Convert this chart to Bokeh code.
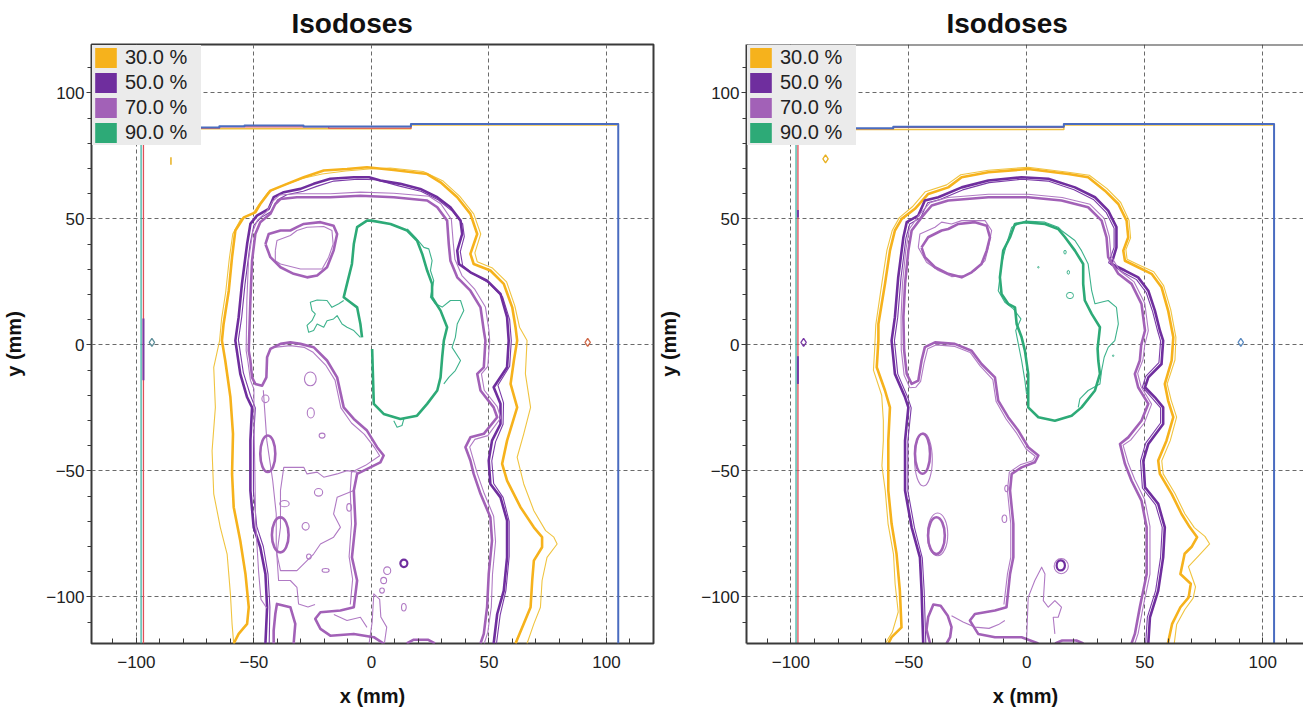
from bokeh.plotting import figure
from bokeh.models import Range1d, Legend, LegendItem, SingleIntervalTicker, Span
from bokeh.layouts import row
from bokeh.embed import file_html
from bokeh.resources import INLINE

TITLE = "Isodoses"
X_LABEL = "x (mm)"
Y_LABEL = "y (mm)"
LEVELS = ["30.0 %", "50.0 %", "70.0 %", "90.0 %"]
LEVEL_COLORS = ["#F6B21C", "#6F2E9E", "#A261B7", "#2DAA77"]
THIN_COLORS = ["#F0C440", "#7B3BA8", "#B07AC4", "#3DB28C"]
Y_START, Y_END = -118.5, 119.2

# ------------------------------------------------------------------ LEFT PANEL (mm)
L30_THICK = [(-58.6,-118.5),(-56.5,-114.7),(-52.9,-110.7),(-52.2,-104.1),(-53.6,-90.9),(-55.8,-77.7),(-58.6,-64.4),(-59.3,-51.2),(-58.9,-35.3),(-60.0,-20.8),(-62.2,-6.2),(-63.6,1.7),(-62.9,8.3),(-60.7,21.5),(-59.3,34.8),(-57.9,45.4),(-54.3,50.6),(-49.4,52.6),(-47.3,55.9),(-43.0,61.2),(-35.9,63.9),(-28.8,66.5),(-20.3,69.2),(-10.4,69.8),(-1.9,70.5),(9.5,69.4),(23.7,67.8),(29.4,64.5),(36.5,58.6),(42.1,52.0),(45.0,44.0),(42.1,36.1),(43.5,32.1),(50.6,29.5),(56.3,24.2),(59.9,14.9),(61.3,7.0),(62.0,1.7),(60.6,-6.2),(59.2,-15.5),(62.0,-24.8),(57.7,-38.0),(55.6,-47.2),(57.7,-53.9),(63.4,-64.4),(69.1,-72.4),(72.6,-76.3),(72.6,-80.3),(69.1,-85.6),(68.4,-93.5),(67.7,-104.1),(64.8,-110.7),(61.3,-118.5)]
L30_THIN = [(-58.6,-118.5),(-59.3,-110.7),(-60.0,-98.8),(-61.4,-83.0),(-64.3,-72.4),(-67.1,-59.1),(-67.8,-42.0),(-66.4,-24.8),(-67.1,-8.9),(-64.6,1.7),(-63.8,10.0),(-62.0,21.0),(-60.5,34.0),(-59.0,44.0),(-55.5,50.0),(-50.5,52.0),(-48.0,55.5),(-44.0,60.5),(-37.0,63.5),(-29.5,66.0),(-21.0,67.8),(-11.0,69.0),(-1.0,69.8),(8.0,70.2),(22.0,68.8),(30.5,65.0),(37.5,59.0),(43.5,52.0),(46.5,44.0),(44.0,36.5),(45.0,33.0),(51.5,30.5),(57.5,25.0),(61.0,15.5),(63.0,7.0),(66.2,1.7),(65.5,-11.5),(67.7,-24.8),(64.8,-35.3),(62.0,-44.6),(64.8,-55.2),(69.1,-65.8),(74.1,-73.7),(77.6,-76.3),(79.0,-79.0),(74.7,-84.3),(72.6,-93.5),(71.9,-104.1),(69.1,-110.7),(66.2,-118.5)]
L50_THICK = [(-45.1,-118.5),(-44.4,-104.1),(-45.1,-90.9),(-47.3,-80.3),(-50.1,-72.4),(-51.5,-57.8),(-51.5,-38.0),(-50.8,-24.8),(-52.9,-20.8),(-55.8,-11.5),(-57.9,1.7),(-56.5,11.0),(-55.1,24.2),(-52.9,40.0),(-51.5,48.0),(-48.7,51.3),(-43.7,54.0),(-41.6,58.6),(-37.3,60.6),(-30.2,61.9),(-24.6,63.9),(-17.5,65.9),(-7.5,66.5),(-1.0,66.5),(3.8,65.2),(12.3,63.9),(20.8,61.9),(28.0,58.6),(33.6,54.6),(37.9,49.3),(38.6,44.0),(36.5,37.4),(37.2,32.1),(42.1,28.8),(49.2,25.5),(54.9,20.2),(57.7,11.0),(58.4,1.7),(57.7,-8.9),(52.0,-16.8),(54.9,-23.4),(54.9,-31.4),(51.3,-38.0),(49.9,-45.9),(50.6,-55.2),(54.9,-60.5),(57.7,-69.7),(57.7,-84.3),(56.3,-97.5),(53.5,-106.8),(52.0,-118.5)]
L50_THIN = [(-43.5,-118.5),(-43.2,-104.0),(-44.0,-91.0),(-46.0,-80.0),(-48.8,-72.0),(-50.2,-58.0),(-50.2,-38.0),(-49.4,-25.0),(-51.5,-20.0),(-54.5,-11.0),(-56.6,2.0),(-55.2,11.0),(-53.8,24.0),(-51.6,40.0),(-50.0,47.5),(-47.0,50.5),(-42.5,53.0),(-40.0,57.5),(-36.0,59.6),(-29.0,61.0),(-23.0,63.0),(-16.0,65.0),(-6.0,65.7),(2.0,65.5),(12.0,63.0),(21.0,61.0),(28.5,57.5),(34.5,53.0),(38.8,48.0),(39.5,43.0),(37.8,37.0),(38.8,31.5),(43.5,28.0),(50.0,24.5),(55.8,19.0),(58.8,10.0),(59.5,1.7),(58.8,-8.5),(53.8,-16.0),(56.2,-23.0),(56.0,-31.5),(52.8,-38.5),(51.2,-46.0),(52.0,-55.0),(56.0,-60.5),(58.6,-70.0),(58.6,-84.0),(57.2,-97.5),(54.8,-107.0),(53.2,-118.5)]
L70_MAIN = [(46.4,-118.5),(47.8,-114.7),(49.2,-104.1),(49.9,-90.9),(51.3,-77.7),(50.6,-68.4),(46.4,-59.1),(43.5,-51.2),(42.1,-45.9),(40.0,-40.6),(42.1,-36.7),(47.8,-35.3),(53.5,-28.7),(52.0,-24.8),(46.4,-18.1),(45.0,-11.5),(47.8,-8.9),(48.5,1.7),(47.8,5.7),(46.4,14.9),(42.1,21.5),(36.5,26.8),(33.6,33.4),(32.9,40.0),(32.2,49.3),(28.0,54.6),(23.7,57.3),(9.5,58.6),(-4.7,59.2),(-17.5,58.6),(-31.7,58.6),(-38.7,57.9),(-40.9,55.9),(-43.0,52.0),(-47.3,48.7),(-49.4,44.0),(-50.8,33.4),(-51.5,17.6),(-52.2,-2.3),(-51.5,-6.2),(-50.8,-12.9),(-49.4,-15.5),(-46.5,-16.2),(-44.7,-12.9),(-44.4,-4.9),(-43.0,-1.6),(-38.7,0.4),(-34.5,1.0),(-30.2,0.4),(-24.6,-0.9),(-18.9,-6.2),(-14.6,-12.9),(-11.8,-24.8),(-7.5,-29.4),(-1.9,-34.0),(2.4,-40.6),(5.2,-43.9),(3.8,-46.6),(-1.8,-49.2),(-6.1,-51.2),(-7.5,-57.8),(-6.8,-71.0),(-8.3,-84.3),(-6.1,-93.5),(-7.5,-104.1),(-13.2,-105.4),(-21.7,-106.1),(-23.9,-108.7),(-21.7,-112.7),(-17.5,-115.4),(-7.5,-114.7),(1.0,-116.0),(5.2,-118.5)]
L70_BUMP = [(15.0,-118.5),(18.0,-117.0),(24.0,-117.0),(27.0,-118.5)]
L70_HEART = [(-45.1,40.0),(-43.7,44.0),(-38.7,45.4),(-34.5,45.4),(-31.7,46.7),(-28.8,48.0),(-21.7,48.7),(-16.1,47.3),(-14.6,44.0),(-16.1,37.4),(-18.9,30.8),(-23.1,27.5),(-27.4,26.8),(-33.1,28.2),(-38.7,30.8),(-43.0,34.8),(-45.1,40.0)]
L70_LOOP = [(-41.6,-118.5),(-41.6,-113.4),(-40.9,-106.8),(-40.2,-102.8),(-34.5,-104.1),(-32.4,-110.7),(-33.1,-118.5)]
L70_THIN_RING = [(48.0,-118.5),(49.5,-114.0),(51.0,-104.0),(51.5,-91.0),(52.8,-78.0),(52.0,-68.0),(48.0,-59.0),(45.0,-51.0),(43.5,-46.0),(41.8,-40.5),(44.0,-37.5),(49.5,-36.0),(55.0,-29.0),(53.5,-24.5),(48.0,-18.0),(46.8,-11.5),(49.5,-8.5),(50.3,1.7),(50.0,5.7),(48.5,15.0),(44.0,22.0),(38.5,27.5),(35.5,34.0),(34.8,40.5),(34.0,49.8),(29.5,56.0),(24.5,59.0),(9.5,60.2),(-4.7,60.6),(-17.5,60.0),(-31.7,60.0),(-39.0,59.5),(-42.0,57.0),(-44.5,53.0),(-48.5,49.5),(-50.5,45.0),(-52.3,33.5),(-53.0,17.6),(-53.3,-2.3),(-52.5,-7.0),(-51.5,-14.0),(-50.0,-17.5),(-50.0,-30.0),(-49.6,-50.0),(-49.3,-70.0),(-48.0,-90.0),(-47.0,-101.0),(-44.5,-104.5)]
L70_THIN_BIG = [(-41.5,-1.0),(-34.5,-0.3),(-28.5,-1.0),(-25.0,-2.8),(-19.5,-8.0),(-15.5,-14.0),(-13.0,-25.0),(-8.5,-31.0),(-3.0,-35.5),(1.5,-41.0),(3.5,-44.0),(-2.5,-47.8),(-8.5,-50.5),(-9.0,-58.0),(-8.5,-71.0),(-9.5,-84.0),(-8.0,-93.0),(-9.0,-103.0)]
L70_THIN_LEFT = [(-46.0,-18.0),(-45.5,-24.8),(-44.5,-38.0),(-42.0,-53.9),(-40.5,-67.1),(-40.5,-80.0),(-39.5,-93.5),(-34.5,-93.5),(-31.7,-96.2),(-31.0,-102.8),(-27.0,-104.0),(-24.0,-103.0)]
L70_THIN_ISLAND = [(-38.7,-57.8),(-37.3,-48.6),(-28.8,-48.6),(-27.4,-51.2),(-23.1,-50.5),(-20.3,-52.5),(-14.6,-51.2),(-10.4,-49.9),(-6.1,-50.5),(-7.5,-57.8),(-14.6,-60.5),(-16.1,-67.1),(-13.2,-72.4),(-16.1,-76.3),(-21.7,-79.0),(-24.6,-83.0),(-27.4,-85.6),(-31.7,-89.6),(-38.7,-89.6),(-40.2,-83.0),(-38.7,-72.4),(-38.7,-57.8)]
L70_THIN_HEART = [(-40.9,37.4),(-40.2,41.4),(-34.5,43.4),(-31.7,45.4),(-27.4,46.7),(-20.3,47.0),(-16.8,45.4),(-16.3,40.0),(-18.2,34.8),(-21.0,30.1),(-30.2,30.1),(-38.7,32.1),(-40.9,33.4),(-40.9,37.4)]
L70_THIN_BITS_A = [(-1.0,-118.5),(0.3,-110.0),(1.0,-98.8),(3.5,-101.0),(4.0,-108.0),(6.5,-112.0),(5.5,-118.5)]
L70_THIN_BITS_B = [(-16.0,-107.0),(-10.4,-109.4),(-4.7,-108.1),(-1.9,-112.1)]
# islands: centre x, centre y, width, height (mm)
L70_OVAL_X = [-44.1, -38.8]
L70_OVAL_Y = [-43.2, -75.4]
L70_OVAL_W = [6.4, 7.1]
L70_OVAL_H = [14.5, 13.9]
L70_ISL_X = [-26.0, -25.8, -21.0, -22.5, -37.0, -28.0, -26.6, -19.5, -9.5, -45.1, 6.7, 5.2, 4.5, 13.8]
L70_ISL_Y = [-13.5, -27.0, -36.0, -58.5, -63.0, -72.0, -84.0, -89.5, -64.5, -21.4, -89.6, -93.5, -97.5, -104.1]
L70_ISL_W = [5.0, 3.0, 2.5, 3.5, 4.0, 3.0, 2.0, 3.0, 2.0, 3.0, 3.0, 2.5, 2.0, 2.0]
L70_ISL_H = [5.5, 4.0, 2.0, 3.0, 2.5, 3.0, 2.0, 1.5, 3.0, 3.0, 3.0, 2.5, 2.0, 3.0]
L50_ISL_X, L50_ISL_Y, L50_ISL_W, L50_ISL_H = [13.8], [-86.7], [3.0], [3.0]
L90_THICK = [(0.3,-1.6),(1.0,-23.4),(5.2,-27.4),(12.3,-29.4),(19.4,-28.1),(23.7,-23.4),(28.0,-18.1),(29.4,-12.9),(30.1,-4.9),(30.8,1.7),(32.2,7.0),(29.4,13.6),(25.8,18.9),(25.8,24.2),(23.7,29.5),(21.6,36.1),(19.4,41.4),(15.2,45.4),(8.1,48.0),(0.0,49.3),(-1.9,49.3),(-6.1,46.7),(-7.5,40.0),(-8.3,32.1),(-10.4,24.2),(-11.8,18.9),(-9.0,16.9),(-6.1,14.9),(-4.7,8.3),(-4.0,3.0)]
L90_THIN_A = [(-11.8,17.6),(-13.9,16.3),(-16.8,14.9),(-18.9,17.6),(-23.1,17.8),(-26.0,16.9),(-25.3,13.6),(-23.9,12.3),(-25.3,9.6),(-27.4,7.7),(-26.7,5.0),(-24.6,5.7),(-23.1,8.3),(-20.3,7.0),(-18.9,9.6),(-16.1,10.3),(-14.6,11.6),(-12.5,8.3),(-10.4,7.0),(-7.5,5.7),(-4.7,3.0)]
L90_THIN_B = [(15.2,46.0),(18.7,42.7),(22.3,38.7),(24.4,38.1),(25.8,33.4),(25.1,29.5),(26.5,25.5),(25.1,18.9),(27.2,16.3),(30.1,15.0),(33.6,17.6),(37.9,17.6),(39.3,13.6),(36.5,8.3),(35.7,3.0),(34.3,-1.0),(37.9,-6.2),(35.7,-10.2),(32.9,-12.9),(30.8,-15.5)]
L90_THIN_C = [(9.5,-30.1),(10.9,-32.7),(13.0,-32.0),(13.8,-29.4)]
L_BLUE = [(-97.0,86.3),(-64.7,86.3),(-64.7,86.8),(-54.0,86.8),(-54.0,87.1),(-28.9,87.1),(-28.9,86.7),(16.8,86.7),(16.8,87.7),(105.0,87.7),(105.0,-118.5)]
L_RED = [(-97.0,-118.5),(-97.0,86.0),(-64.7,86.0),(-64.7,86.5),(-18.2,86.5),(-18.2,86.0),(16.8,86.0),(16.8,87.4)]
L_TEAL = [(-98.0,-118.5),(-98.0,86.0)]
L_YELLOW = [(-96.5,85.8),(16.8,85.8),(16.8,87.3),(104.5,87.3)]
L_PURPLE = [(-97.0,10.5),(-97.0,-14.0)]
L_YTICK = [(-85.3,71.5),(-85.3,74.5)]
L_DIAM_X = [-93.4, 92.0]
L_DIAM_Y = [1.0, 1.0]
L_DIAM_C = ["#5f8f9a", "#d06a4a"]

# ------------------------------------------------------------------ RIGHT PANEL (mm)
R30_THICK = [(-58.7,-118.5),(-57.3,-116.0),(-53.1,-112.1),(-53.8,-97.5),(-55.2,-83.0),(-57.3,-71.0),(-58.7,-57.8),(-58.7,-38.0),(-58.0,-24.8),(-60.1,-18.1),(-63.6,-8.9),(-62.9,1.7),(-62.9,8.3),(-60.1,24.2),(-58.0,37.4),(-55.9,45.4),(-53.0,50.0),(-47.4,54.0),(-41.8,59.9),(-33.3,62.5),(-27.6,66.5),(-16.3,68.5),(0.6,69.8),(17.6,67.8),(26.0,66.5),(33.1,61.2),(38.8,55.9),(42.3,49.3),(43.0,42.7),(40.9,37.4),(41.6,33.4),(47.2,30.8),(52.9,28.2),(57.1,22.9),(59.9,13.6),(62.1,3.0),(61.4,-6.2),(58.5,-15.5),(59.9,-22.1),(62.1,-28.7),(59.2,-38.0),(55.7,-45.9),(56.4,-51.2),(61.4,-59.1),(65.6,-67.1),(69.1,-72.4),(72.2,-76.3),(70.0,-80.0),(66.9,-82.9),(65.1,-90.9),(69.5,-94.8),(68.6,-100.2),(65.1,-104.1),(61.6,-110.7),(59.8,-118.5)]
R30_THIN = [(-60.0,-118.5),(-57.0,-114.0),(-54.5,-106.0),(-55.8,-95.0),(-56.5,-83.0),(-58.8,-71.0),(-60.0,-57.8),(-61.4,-48.0),(-60.8,-38.0),(-60.8,-30.0),(-61.5,-20.0),(-65.0,-10.0),(-64.5,-2.0),(-64.0,8.0),(-61.5,24.0),(-59.3,37.5),(-57.0,45.5),(-54.0,50.5),(-48.5,54.8),(-43.0,60.8),(-34.0,63.5),(-28.0,67.5),(-16.3,69.3),(0.6,70.5),(17.6,68.5),(26.5,67.3),(34.0,62.0),(39.8,56.5),(43.3,49.5),(44.0,42.5),(42.0,37.8),(42.5,34.0),(48.0,31.5),(53.8,29.0),(58.0,23.5),(61.0,14.0),(63.2,3.0),(62.8,-6.0),(59.5,-15.5),(61.2,-22.0),(63.5,-28.7),(60.8,-38.0),(57.2,-46.0),(57.8,-51.2),(62.8,-59.0),(67.0,-67.0),(71.0,-72.5),(75.5,-76.0),(77.5,-79.0),(73.0,-83.5),(68.5,-88.0),(70.0,-92.0),(71.5,-96.0),(70.5,-100.5),(67.0,-105.0),(63.5,-111.0),(62.5,-118.5)]
R50_THICK = [(-43.9,-118.5),(-44.6,-97.5),(-45.3,-84.3),(-48.8,-72.4),(-51.6,-57.8),(-51.6,-38.0),(-50.2,-24.8),(-51.6,-20.8),(-55.9,-11.5),(-57.3,1.7),(-55.9,11.0),(-54.5,26.8),(-52.3,42.7),(-50.9,48.7),(-46.0,51.3),(-43.2,57.3),(-37.5,58.6),(-27.6,62.5),(-16.3,65.2),(-2.2,66.5),(9.1,65.9),(20.4,62.5),(28.9,58.6),(34.5,53.3),(38.0,46.7),(38.0,38.7),(35.9,32.1),(41.6,29.5),(47.2,26.8),(51.5,21.5),(54.3,13.6),(56.4,5.7),(57.8,1.7),(57.1,-7.6),(51.5,-12.9),(50.1,-16.8),(54.3,-20.8),(57.8,-24.8),(57.8,-31.4),(51.5,-39.3),(49.4,-45.9),(50.1,-56.5),(55.7,-63.1),(58.5,-72.4),(57.8,-84.3),(55.7,-97.5),(52.2,-108.1),(51.5,-118.5)]
R50_THIN = [(-42.8,-118.5),(-43.5,-97.5),(-44.3,-84.5),(-47.6,-72.5),(-50.4,-58.0),(-50.4,-38.0),(-49.0,-25.0),(-50.4,-21.0),(-54.7,-11.5),(-56.1,1.7),(-54.7,11.0),(-53.3,26.8),(-51.2,42.5),(-49.6,48.0),(-45.0,50.5),(-42.0,56.4),(-36.8,57.7),(-27.2,61.5),(-16.0,64.4),(-2.2,65.7),(9.0,65.0),(20.0,61.6),(28.2,57.7),(33.6,52.6),(37.0,46.3),(37.0,38.7),(34.7,32.6),(41.0,28.6),(46.5,25.9),(50.6,20.8),(53.3,13.3),(55.4,5.7),(56.7,1.5),(56.0,-7.0),(50.4,-12.5),(49.0,-16.8),(53.3,-21.3),(56.7,-25.0),(56.7,-31.0),(50.4,-39.0),(48.2,-46.0),(49.0,-56.8),(54.6,-63.5),(57.4,-72.4),(56.7,-84.3),(54.6,-97.5),(51.1,-108.0),(50.4,-118.5)]
R70_MAIN = [(44.4,-118.5),(45.8,-114.7),(47.9,-104.1),(50.8,-91.0),(50.8,-72.4),(48.6,-61.8),(44.4,-53.9),(41.6,-47.2),(39.5,-39.3),(43.0,-36.7),(48.6,-30.1),(51.5,-23.4),(47.2,-16.8),(45.8,-11.5),(47.9,-6.2),(48.5,0.0),(50.1,5.7),(48.6,16.3),(44.4,24.2),(38.8,28.2),(34.5,34.8),(33.8,42.7),(31.7,49.3),(26.0,54.6),(14.7,57.3),(0.6,58.6),(-16.3,58.6),(-33.3,57.3),(-40.3,55.3),(-44.6,50.6),(-48.8,45.4),(-50.2,37.4),(-51.6,24.2),(-52.3,11.0),(-52.0,-2.0),(-50.9,-11.5),(-48.8,-15.5),(-46.0,-14.2),(-44.6,-6.2),(-43.2,-0.9),(-38.9,1.0),(-30.5,0.4),(-23.4,-2.3),(-19.2,-7.6),(-13.5,-12.9),(-12.1,-22.1),(-7.9,-28.7),(-3.6,-34.0),(0.6,-40.6),(4.9,-43.9),(3.4,-46.6),(-2.2,-48.6),(-6.4,-51.2),(-7.1,-57.8),(-5.7,-71.0),(-5.7,-84.3),(-7.1,-90.9),(-8.6,-104.1),(-13.5,-105.4),(-22.0,-106.8),(-24.1,-109.4),(-20.6,-114.7),(-13.5,-116.0),(-2.2,-116.0),(4.9,-118.5)]
R70_BUMP = [(12.0,-118.5),(15.0,-117.3),(21.0,-117.3),(24.0,-118.5)]
R70_HEART = [(-44.6,38.7),(-41.8,42.7),(-36.1,45.4),(-33.3,46.0),(-29.0,48.0),(-22.0,48.7),(-17.0,47.3),(-15.6,42.7),(-17.0,37.4),(-19.2,32.1),(-23.4,28.8),(-27.6,26.8),(-33.3,28.2),(-38.9,30.8),(-43.2,34.8),(-44.6,38.7)]
R70_LOOP = [(-41.0,-118.5),(-42.5,-113.0),(-41.8,-108.0),(-39.6,-103.0),(-36.5,-103.5),(-33.5,-107.5),(-31.9,-112.0),(-32.5,-116.0),(-34.0,-118.5)]
R70_THIN_RING = [(45.8,-118.5),(47.2,-114.5),(49.3,-104.0),(52.2,-91.0),(52.2,-72.0),(50.0,-61.5),(45.8,-53.5),(43.0,-47.0),(40.8,-39.8),(44.0,-37.8),(49.8,-31.0),(52.9,-23.5),(48.4,-16.5),(47.0,-11.3),(49.2,-6.0),(50.0,0.0),(51.5,5.7),(50.0,16.5),(45.5,25.0),(39.5,29.3),(35.7,35.2),(35.0,43.0),(32.8,50.2),(26.8,55.8),(15.0,58.5),(0.6,59.8),(-16.3,59.8),(-33.5,58.5),(-41.0,56.4),(-45.6,51.6),(-49.8,46.0),(-51.3,37.4),(-52.7,24.2),(-53.3,11.0),(-53.2,-2.0),(-52.0,-12.0),(-49.6,-17.0),(-47.0,-16.8),(-45.0,-14.5),(-43.5,-7.0),(-42.0,-1.5),(-38.5,0.0),(-30.5,-0.6),(-24.0,-3.0),(-19.8,-8.3),(-14.4,-13.8),(-13.0,-22.5),(-8.8,-29.4),(-4.5,-34.8),(-0.3,-41.3),(3.6,-44.2),(2.5,-46.0),(-2.8,-47.6),(-7.4,-50.5),(-8.2,-57.8),(-6.8,-71.0),(-6.8,-84.3),(-8.2,-90.9),(-9.7,-103.0)]
R70_THIN_HEART = [(-46.0,38.7),(-45.3,44.0),(-38.9,46.7),(-36.1,48.7),(-31.9,48.0),(-27.6,49.3),(-17.7,49.3),(-14.9,45.4),(-16.3,38.7),(-17.7,33.4),(-22.0,29.5),(-26.2,27.5),(-31.9,27.1),(-37.5,29.5),(-42.5,32.8),(-46.0,38.7)]
R70_THIN_BITS_A = [(-0.1,-117.3),(0.6,-100.2),(3.4,-93.5),(6.3,-88.2),(7.7,-90.9),(7.0,-101.5),(9.1,-104.1),(11.9,-101.5),(14.7,-104.1),(13.3,-108.1),(11.2,-108.1),(11.9,-114.7)]
R70_THIN_BITS_B = [(-31.9,-107.5),(-27.0,-110.0),(-22.0,-112.0),(-16.0,-112.5),(-12.0,-111.0),(-9.3,-109.4)]
R70_OVAL_X = [-44.2, -38.3]
R70_OVAL_Y = [-43.2, -75.7]
R70_OVAL_W = [6.4, 7.1]
R70_OVAL_H = [15.9, 14.6]
R70_ISL_X = [-43.8, -37.8, -9.5, -8.6, 14.6]
R70_ISL_Y = [-45.5, -75.2, -69.0, -57.0, -87.8]
R70_ISL_W = [7.5, 8.6, 2.0, 1.5, 6.0]
R70_ISL_H = [21.0, 17.0, 3.0, 2.5, 6.0]
R50_ISL_X, R50_ISL_Y, R50_ISL_W, R50_ISL_H = [14.4], [-87.5], [3.5], [4.0]
R90_THICK = [(-0.8,48.7),(-5.0,48.0),(-7.1,42.7),(-10.0,37.4),(-11.4,26.8),(-10.7,20.2),(-7.9,16.3),(-5.0,14.9),(-4.3,8.3),(-2.2,3.0),(-0.8,-2.3),(0.6,-11.5),(0.6,-24.8),(4.9,-28.7),(11.9,-30.1),(19.0,-28.1),(23.2,-24.8),(28.9,-18.1),(31.0,-11.5),(30.3,-6.2),(30.0,-1.5),(31.0,7.0),(27.5,12.3),(24.6,17.6),(23.9,24.2),(23.9,32.1),(20.4,37.4),(16.2,42.7),(13.3,46.0),(7.7,48.0),(-0.8,48.7)]
R90_THIN_A = [(-0.8,49.1),(-6.4,46.7),(-8.6,40.0),(-10.7,32.1),(-12.1,21.5),(-9.3,16.9),(-5.7,14.3),(-2.5,10.3),(-4.7,5.7),(-3.6,0.4),(-2.2,-6.2),(-0.8,-14.2),(-0.1,-19.5)]
R90_THIN_B = [(-0.8,49.1),(7.7,48.7),(13.3,46.7),(14.7,45.4),(20.4,41.4),(23.2,37.4),(26.0,32.1),(27.5,21.5),(28.9,16.3),(34.5,17.6),(38.0,14.9),(38.8,8.3),(37.3,1.7),(34.5,-1.0),(32.8,-4.9),(31.7,-10.2),(31.0,-15.5),(26.0,-18.1),(22.5,-21.4),(21.8,-24.8)]
R90_ISL_X = [18.3, 17.6, 16.2, 4.9, 36.6]
R90_ISL_Y = [19.6, 28.8, 36.8, 30.8, -4.3]
R90_ISL_W = [3.0, 1.0, 1.0, 0.6, 0.6]
R90_ISL_H = [2.5, 1.5, 1.5, 0.6, 0.6]
R_BLUE = [(-97.2,86.0),(-56.6,86.0),(-56.6,86.6),(15.7,86.6),(15.7,87.7),(104.8,87.7),(104.8,-118.5)]
R_RED = [(-97.0,-118.5),(-97.0,85.8),(-56.6,85.8),(-56.6,86.3),(15.7,86.3)]
R_TEAL = [(-97.8,-118.5),(-97.8,85.8)]
R_YELLOW = [(-96.5,85.5),(15.7,85.5),(15.7,87.3),(104.3,87.3)]
R_PURPLE = [(-97.0,-4.5),(-97.0,-15.5)]
R_PURPLE2 = [(-97.0,50.5),(-97.0,53.5)]
R_DIAM_X = [-94.6, 90.7, -85.3]
R_DIAM_Y = [1.0, 1.0, 73.8]
R_DIAM_C = ["#7a3aa6", "#5a8ac0", "#e8b020"]

FONT = "Liberation Sans"
FRAME_C = "#3a3a3a"


def xs_of(paths):
    return [[q[0] for q in path] for path in paths]


def ys_of(paths):
    return [[q[1] for q in path] for path in paths]


def lines(p, paths, color, width, alpha=1.0):
    p.multi_line(xs=xs_of(paths), ys=ys_of(paths), line_color=color,
                 line_width=width, line_alpha=alpha, line_join="round")


def ellipses(p, x, y, w, h, color, width):
    p.ellipse(x=x, y=y, width=w, height=h, fill_color=None,
              line_color=color, line_width=width)


def make_panel(x_start, x_end, frame_w, bl, br, cut_right):
    p = figure(frame_width=frame_w, frame_height=599,
               x_range=Range1d(x_start, x_end), y_range=Range1d(Y_START, Y_END),
               title=TITLE, output_backend="svg", toolbar_location=None,
               min_border_left=bl, min_border_right=br,
               min_border_top=44, min_border_bottom=73,
               background_fill_color="white", border_fill_color="white")
    p.title.align = "left"
    p.title.offset = 200
    p.title.text_font = FONT
    p.title.text_font_size = "28px"
    p.title.text_font_style = "bold"
    p.title.text_color = "#111111"
    p.title.standoff = 11

    tx = SingleIntervalTicker(interval=50, num_minor_ticks=5)
    ty = SingleIntervalTicker(interval=50, num_minor_ticks=5)
    p.xaxis.ticker = tx
    p.xgrid.ticker = tx
    p.yaxis.ticker = ty
    p.ygrid.ticker = ty
    for g in (p.xgrid, p.ygrid):
        g.grid_line_color = "#6a6a6a"
        g.grid_line_dash = "4 3"
        g.grid_line_width = 1

    p.xaxis.axis_label = X_LABEL
    p.yaxis.axis_label = Y_LABEL
    for ax in (p.xaxis, p.yaxis):
        ax.axis_label_text_font = FONT
        ax.axis_label_text_font_size = "20px"
        ax.axis_label_text_font_style = "bold"
        ax.axis_label_text_color = "#111111"
        ax.major_label_text_font = FONT
        ax.major_label_text_font_size = "17px"
        ax.major_label_text_color = "#222222"
        ax.major_tick_line_color = FRAME_C
        ax.minor_tick_line_color = FRAME_C
    p.xaxis.major_tick_in = 6
    p.xaxis.major_tick_out = 0
    p.xaxis.minor_tick_in = 5
    p.xaxis.minor_tick_out = 0
    p.xaxis.major_label_standoff = 12
    p.xaxis.axis_label_standoff = 14
    p.yaxis.major_tick_in = 0
    p.yaxis.major_tick_out = 5
    p.yaxis.minor_tick_in = 0
    p.yaxis.minor_tick_out = 4
    p.yaxis.major_label_standoff = 2
    p.yaxis.axis_label_standoff = 18

    if cut_right:
        p.outline_line_color = None
        for ax in (p.xaxis, p.yaxis):
            ax.axis_line_color = FRAME_C
            ax.axis_line_width = 2
        p.add_layout(Span(location=Y_END, dimension="width",
                          line_color=FRAME_C, line_width=2))
    else:
        p.outline_line_color = FRAME_C
        p.outline_line_width = 2
        for ax in (p.xaxis, p.yaxis):
            ax.axis_line_color = None
    return p


def add_legend(p, anchor_path):
    # legend swatches: zero-area quads anchored on a contour's first point
    ax_, ay_ = anchor_path[0]
    items = []
    for lab, col in zip(LEVELS, LEVEL_COLORS):
        r = p.quad(left=[ax_], right=[ax_], top=[ay_], bottom=[ay_],
                   fill_color=col, line_color=None)
        items.append(LegendItem(label=lab, renderers=[r]))
    leg = Legend(items=items, location="top_left", margin=1, padding=0, spacing=0,
                 glyph_width=27, glyph_height=25, label_height=25, label_width=76,
                 label_standoff=6, label_text_font=FONT, label_text_font_size="20px",
                 label_text_color="#222222", background_fill_color="#ebebeb",
                 background_fill_alpha=1.0, border_line_color=None)
    p.add_layout(leg)


# ---------------- left
left = make_panel(-119.1, 120.0, 562, 91, 2, False)
lines(left, [L_TEAL], "#3fb3a3", 1.3)
lines(left, [L_YELLOW], "#f0c040", 1.5)
lines(left, [L_RED], "#e0505a", 1.3)
lines(left, [L_BLUE], "#4a6cc0", 2.0)
lines(left, [L_PURPLE], "#7a3aa6", 2.0)
lines(left, [L_YTICK], "#e8b020", 1.5)
left.scatter(x=L_DIAM_X, y=L_DIAM_Y, marker="diamond", size=8, fill_color=None,
             line_color=L_DIAM_C, line_width=1.3)
lines(left, [L30_THIN], THIN_COLORS[0], 1.1)
lines(left, [L30_THICK], LEVEL_COLORS[0], 2.6)
lines(left, [L50_THIN], THIN_COLORS[1], 1.1)
lines(left, [L50_THICK], LEVEL_COLORS[1], 2.6)
lines(left, [L70_THIN_RING, L70_THIN_BIG, L70_THIN_LEFT, L70_THIN_ISLAND, L70_THIN_HEART,
             L70_THIN_BITS_A, L70_THIN_BITS_B], THIN_COLORS[2], 1.1)
ellipses(left, L70_ISL_X, L70_ISL_Y, L70_ISL_W, L70_ISL_H, THIN_COLORS[2], 1.1)
lines(left, [L70_MAIN, L70_BUMP, L70_HEART, L70_LOOP], LEVEL_COLORS[2], 2.6)
ellipses(left, L70_OVAL_X, L70_OVAL_Y, L70_OVAL_W, L70_OVAL_H, LEVEL_COLORS[2], 2.6)
ellipses(left, L50_ISL_X, L50_ISL_Y, L50_ISL_W, L50_ISL_H, LEVEL_COLORS[1], 2.2)
lines(left, [L90_THIN_A, L90_THIN_B, L90_THIN_C], THIN_COLORS[3], 1.1)
lines(left, [L90_THICK], LEVEL_COLORS[3], 2.6)
add_legend(left, L30_THICK)

# ---------------- right
right = make_panel(-118.8, 117.7, 558, 90, 0, True)
lines(right, [R_TEAL], "#3fb3a3", 1.3)
lines(right, [R_YELLOW], "#f0c040", 1.5)
lines(right, [R_RED], "#e0505a", 1.3)
lines(right, [R_BLUE], "#4a6cc0", 2.0)
lines(right, [R_PURPLE, R_PURPLE2], "#7a3aa6", 2.0)
right.scatter(x=R_DIAM_X, y=R_DIAM_Y, marker="diamond", size=8, fill_color=None,
              line_color=R_DIAM_C, line_width=1.3)
lines(right, [R30_THIN], THIN_COLORS[0], 1.1)
lines(right, [R30_THICK], LEVEL_COLORS[0], 2.6)
lines(right, [R50_THIN], THIN_COLORS[1], 1.1)
lines(right, [R50_THICK], LEVEL_COLORS[1], 2.6)
lines(right, [R70_THIN_RING, R70_THIN_HEART, R70_THIN_BITS_A, R70_THIN_BITS_B],
      THIN_COLORS[2], 1.1)
ellipses(right, R70_ISL_X, R70_ISL_Y, R70_ISL_W, R70_ISL_H, THIN_COLORS[2], 1.1)
lines(right, [R70_MAIN, R70_BUMP, R70_HEART, R70_LOOP], LEVEL_COLORS[2], 2.6)
ellipses(right, R70_OVAL_X, R70_OVAL_Y, R70_OVAL_W, R70_OVAL_H, LEVEL_COLORS[2], 2.6)
ellipses(right, R50_ISL_X, R50_ISL_Y, R50_ISL_W, R50_ISL_H, LEVEL_COLORS[1], 2.2)
lines(right, [R90_THIN_A, R90_THIN_B], THIN_COLORS[3], 1.1)
ellipses(right, R90_ISL_X, R90_ISL_Y, R90_ISL_W, R90_ISL_H, THIN_COLORS[3], 1.0)
lines(right, [R90_THICK], LEVEL_COLORS[3], 2.6)
add_legend(right, R30_THICK)

layout = row(left, right)
open("out.html", "w").write(file_html(layout, INLINE))
